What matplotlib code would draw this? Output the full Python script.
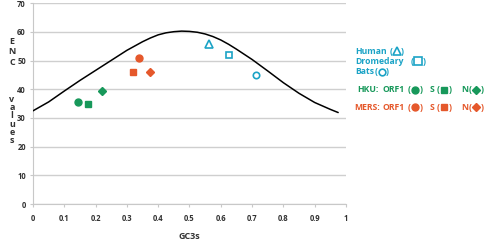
import matplotlib
matplotlib.use('Agg')
import matplotlib.pyplot as plt
from matplotlib.lines import Line2D

# expected ENC curve
curve_gc3s = [0.0, 0.05, 0.1, 0.15, 0.2, 0.25, 0.3, 0.35, 0.375, 0.4, 0.425, 0.45, 0.475,
              0.5, 0.525, 0.55, 0.575, 0.6, 0.625, 0.65, 0.7, 0.75, 0.8, 0.85, 0.9, 0.95, 0.975]
curve_enc = [32.5, 35.6, 39.4, 43.1, 46.6, 50.1, 53.6, 56.6, 57.9, 59.0, 59.7, 60.1, 60.3,
             60.2, 59.9, 59.3, 58.4, 57.2, 55.7, 54.0, 50.4, 46.4, 42.3, 38.6, 35.4, 33.0, 31.9]

# HKU genes (green)
hku_orf1 = (0.143, 35.7)
hku_s = (0.175, 34.9)
hku_n = (0.22, 39.5)
# MERS genes (orange)
mers_orf1 = (0.338, 50.8)
mers_s = (0.32, 46.1)
mers_n = (0.374, 45.9)
# hosts (blue, open)
human = (0.563, 55.9)
dromedary = (0.626, 52.1)
bats = (0.711, 45.0)

x_ticks = [0, 0.1, 0.2, 0.3, 0.4, 0.5, 0.6, 0.7, 0.8, 0.9, 1]
x_tick_labels = ['0', '0.1', '0.2', '0.3', '0.4', '0.5', '0.6', '0.7', '0.8', '0.9', '1']
y_ticks = [0, 10, 20, 30, 40, 50, 60, 70]

blue = '#1BA3C6'
green = '#17985A'
orange = '#E5582B'
txt = '#333333'
fam = ['Open Sans', 'DejaVu Sans']

W, H = 489, 241
fig = plt.figure(figsize=(W / 100, H / 100), dpi=100)
ax = fig.add_axes([33 / W, (H - 204) / H, (346 - 33) / W, (204 - 3.3) / H])

ax.plot(curve_gc3s, curve_enc, color='black', linewidth=1.1, zorder=3,
        solid_joinstyle='round', solid_capstyle='round')

ax.plot(*hku_orf1, 'o', color=green, markersize=5, zorder=4)
ax.plot(*hku_s, 's', color=green, markersize=4.6, zorder=4)
ax.plot(*hku_n, 'D', color=green, markersize=3.6, zorder=4)
ax.plot(*mers_orf1, 'o', color=orange, markersize=5, zorder=4)
ax.plot(*mers_s, 's', color=orange, markersize=4.6, zorder=4)
ax.plot(*mers_n, 'D', color=orange, markersize=3.6, zorder=4)
ax.plot(*human, '^', mfc='white', mec=blue, mew=1.2, markersize=5.5, zorder=4)
ax.plot(*dromedary, 's', mfc='white', mec=blue, mew=1.2, markersize=5, zorder=4)
ax.plot(*bats, 'o', mfc='white', mec=blue, mew=1.2, markersize=4.6, zorder=4)

ax.set_xlim(0, 1)
ax.set_ylim(0, 70)
ax.set_xticks(x_ticks)
ax.set_xticklabels(x_tick_labels)
ax.set_yticks(y_ticks)
ax.yaxis.grid(True, color='#CFCFCF', linewidth=1.0)
ax.set_axisbelow(True)
for s in ['top', 'right']:
    ax.spines[s].set_visible(False)
ax.spines['left'].set_color('#C8C8C8')
ax.spines['bottom'].set_color('#C8C8C8')
ax.tick_params(axis='x', length=2.2, color='#C8C8C8', pad=5, labelsize=5.5, labelcolor=txt)
ax.tick_params(axis='y', length=2.2, color='#C8C8C8', pad=3, labelsize=5.5, labelcolor=txt)
for lab in ax.get_xticklabels() + ax.get_yticklabels():
    lab.set_fontfamily(fam)
    lab.set_fontweight('bold')

ax.set_xlabel('GC3s', fontsize=6.5, fontweight='bold', color=txt, family=fam, labelpad=6.5)

# stacked y label
def px(x, y):
    return x / W, 1 - y / H

fig.text(*px(12, 52), 'E\nN\nC', fontsize=6.5, fontweight='bold', color=txt, family=fam,
         ha='center', va='center', linespacing=1.2)
fig.text(*px(12, 120), 'v\na\nl\nu\ne\ns', fontsize=6.5, fontweight='bold', color=txt, family=fam,
         ha='center', va='center', linespacing=0.88)

# legend block built from text and markers
FS = 6.2

def t(x, y, s, c, ha='left'):
    fig.text(*px(x, y), s, fontsize=FS, fontweight='bold', color=c, family=fam,
             ha=ha, va='center')

def m(x, y, mk, c, filled=True, ms=5):
    if filled:
        fig.add_artist(Line2D([x / W], [1 - y / H], marker=mk, color=c, markersize=ms,
                              linestyle='none', transform=fig.transFigure))
    else:
        fig.add_artist(Line2D([x / W], [1 - y / H], marker=mk, mfc='none', mec=c, mew=1.2,
                              markersize=ms, linestyle='none', transform=fig.transFigure))

def item(x, y, before, mk, c, filled, ms, gap=4.5):
    t(x - gap, y, before, c, ha='right')
    m(x, y - 0.4, mk, c, filled, ms)
    t(x + gap, y, ')', c)

t(355.5, 51, 'Human', blue)
item(396.7, 51, '(', '^', blue, False, 5.2)
t(355.5, 61, 'Dromedary', blue)
item(418.3, 61, '(', 's', blue, False, 5.2)
t(355.5, 72, 'Bats', blue)
item(381.7, 72, '(', 'o', blue, False, 4.8)

for y, lab, c, x0 in [(90, 'HKU:', green, 357), (107, 'MERS:', orange, 354)]:
    t(x0, y, lab, c)
    t(382.5, y, 'ORF1', c)
    item(415, y, '(', 'o', c, True, 5)
    t(430, y, 'S', c)
    item(444.5, y, '(', 's', c, True, 4.8)
    t(461.5, y, 'N', c)
    item(476, y, '(', 'D', c, True, 3.8)

fig.savefig('out.png', dpi=100)
plt.close(fig)
